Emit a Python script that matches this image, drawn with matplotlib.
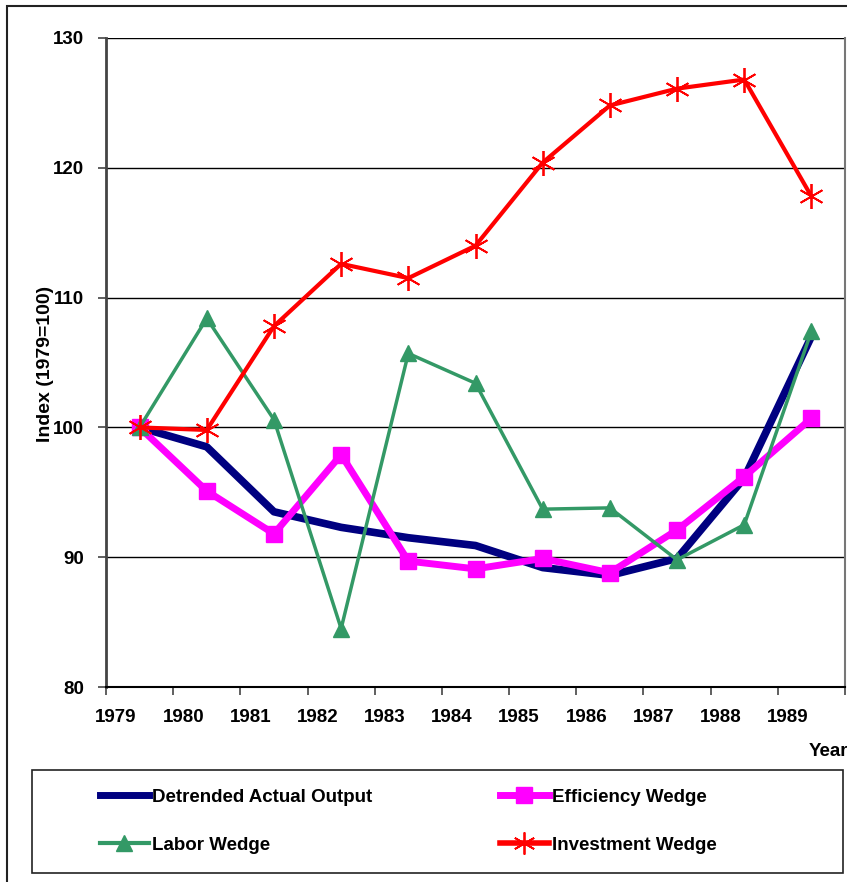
import numpy as np
import matplotlib.pyplot as plt
from matplotlib.patches import Rectangle
from matplotlib.lines import Line2D

# values, index 1979 = 100
years = ['1979', '1980', '1981', '1982', '1983', '1984',
         '1985', '1986', '1987', '1988', '1989']
output = [100.0, 98.5, 93.5, 92.3, 91.5, 90.9, 89.2, 88.6, 89.9, 96.1, 107.0]
efficiency = [100.0, 95.1, 91.8, 97.9, 89.7, 89.1, 89.9, 88.8, 92.1, 96.2, 100.7]
labor = [100.0, 108.4, 100.6, 84.5, 105.7, 103.4, 93.7, 93.8, 89.8, 92.5, 107.4]
investment = [100.0, 99.8, 107.8, 112.6, 111.5, 114.0, 120.4, 124.8, 126.1, 126.8, 117.8]

font = ['Liberation Sans', 'DejaVu Sans']
W, H = 847, 882

fig = plt.figure(figsize=(W / 100, H / 100), dpi=100)
ax = fig.add_axes([106 / W, 1 - 687 / H, (845 - 106) / W, (687 - 38) / H])

x = np.arange(len(years))
ax.plot(x, output, color='#000080', lw=5.5, zorder=3)
ax.plot(x, efficiency, color='#FF00FF', lw=5, marker='s', ms=11, zorder=4)
ax.plot(x, labor, color='#339966', lw=2.5, marker='^', ms=12, zorder=5)
ax.plot(x, investment, color='#FF0000', lw=3, marker=(6, 2, 0), ms=18,
        mew=1.3, zorder=6)

ax.set_xlim(-0.5, len(years) - 0.5)
ax.set_ylim(80, 130)
ax.set_yticks([80, 90, 100, 110, 120, 130])
ax.grid(axis='y', color='black', lw=1)
ax.set_axisbelow(True)

# year labels sit slightly right of the category boundaries
ax.set_xticks(x - 0.35)
ax.set_xticklabels(years)
ax.set_xticks(np.arange(len(years) + 1) - 0.5, minor=True)
ax.tick_params(axis='x', which='major', length=0, pad=16)
ax.tick_params(axis='x', which='minor', length=6, width=1.2, color='#444444')
ax.tick_params(axis='y', length=6, width=1.2, color='#444444', pad=10)
for lab in ax.get_xticklabels() + ax.get_yticklabels():
    lab.set_family(font)
    lab.set_fontweight('bold')
    lab.set_fontsize(13.5)

ax.spines['top'].set_visible(False)
ax.spines['left'].set_color('#444444')
ax.spines['left'].set_linewidth(2)
ax.spines['right'].set_color('#777777')
ax.spines['right'].set_linewidth(1.5)
ax.spines['bottom'].set_linewidth(1.5)

fig.text(46 / W, 1 - 364 / H, 'Index (1979=100)', rotation=90, ha='center',
         va='center', family=font, fontweight='bold', fontsize=14)
fig.text(809 / W, 1 - 752 / H, 'Year', ha='left', va='center', family=font,
         fontweight='bold', fontsize=13.5)

# outer frame and legend frame
fig.patches.append(Rectangle((7 / W, -0.05), 1.2, 1 - 6 / H + 0.05,
                             transform=fig.transFigure, fill=False,
                             ec='#222222', lw=1.5))
fig.patches.append(Rectangle((32 / W, 1 - 873 / H), (843 - 32) / W, (873 - 770) / H,
                             transform=fig.transFigure, fill=False,
                             ec='#222222', lw=1.2))

h_out = Line2D([], [], color='#000080', lw=5)
h_eff = Line2D([], [], color='#FF00FF', lw=5, marker='s', ms=11)
h_lab = Line2D([], [], color='#339966', lw=3, marker='^', ms=11)
h_inv = Line2D([], [], color='#FF0000', lw=4, marker=(6, 2, 0), ms=16, mew=1.3)

leg_kw = dict(frameon=False, handlelength=2.6, handletextpad=0.15,
              labelspacing=1.65, borderpad=0, borderaxespad=0,
              prop={'family': font, 'weight': 'bold', 'size': 13.5})
fig.legend([h_out, h_lab], ['Detrended Actual Output', 'Labor Wedge'],
           loc='center left', bbox_to_anchor=(100 / W, 1 - 821 / H), **leg_kw)
fig.legend([h_eff, h_inv], ['Efficiency Wedge', 'Investment Wedge'],
           loc='center left', bbox_to_anchor=(500 / W, 1 - 821 / H), **leg_kw)

fig.savefig('out.png', dpi=100)
